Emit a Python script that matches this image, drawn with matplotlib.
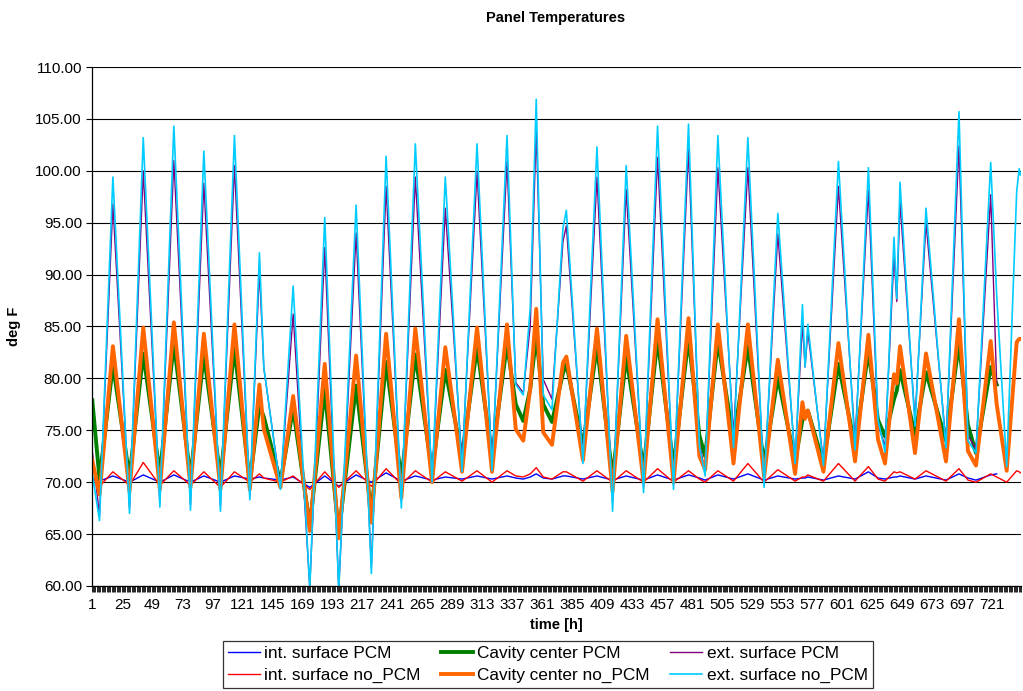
import matplotlib
matplotlib.use('agg')
import matplotlib.pyplot as plt
import numpy as np

plt.rcParams['font.family'] = ['Liberation Sans', 'DejaVu Sans']

# hour of each sampled point (daily lows, highs and a few shoulders)
hours = [1, 6.8, 17.5, 30.8, 41.8, 55.1, 66.3, 79.6, 90.3, 103.6,
         114.8, 127.1, 134.8, 138.3, 151.6, 161.8, 175.1, 187.1, 198.3, 212.2,
         224.4, 236.2, 248.4, 259.6, 273, 283.6, 297, 309, 321, 333,
         340, 346, 351.6, 356.4, 362, 369, 377.8, 380.5, 393.8, 405,
         417.5, 428.4, 442.3, 453.5, 466.3, 478.3, 487, 491.6, 501.8, 514.3,
         525.8, 538.8, 549.8, 563.6, 569.5, 571.6, 573.8, 586.3, 598.3, 611.6,
         622.3, 630, 635.6, 642.8, 645, 647.6, 659.6, 668.4, 684.4, 694.8,
         702, 708.4, 720.2, 725, 733, 741, 743, 744]

nan = float('nan')

int_pcm = [70.3, 70.1, 70.6, 70.0, 70.7, 70.0, 70.7, 70.0, 70.6, 70.0,
           70.6, 70.3, 70.5, 70.4, 70.2, 70.5, 69.5, 70.6, 69.6, 70.7,
           70.0, 70.9, 70.1, 70.6, 70.2, 70.5, 70.3, 70.6, 70.3, 70.6,
           70.4, 70.3, 70.5, 70.8, 70.4, 70.3, 70.6, 70.6, 70.3, 70.6,
           70.2, 70.6, 70.2, 70.7, 70.2, 70.7, 70.4, 70.2, 70.7, 70.3,
           70.8, 70.2, 70.6, 70.3, 70.4, 70.4, 70.5, 70.2, 70.6, 70.3,
           71.0, 70.4, 70.3, 70.5, 70.5, 70.6, 70.3, 70.6, 70.2, 70.8,
           70.4, 70.2, 70.7, 70.8, nan, nan, nan, nan]

cavity_pcm = [77.9, 70.3, 81.3, 70.5, 82.4, 70.8, 83.4, 70.5, 82.3, 70.5,
              82.9, 70.0, 77.4, 76.3, 70.0, 77.1, 65.8, 78.9, 65.1, 79.3,
              67.0, 81.6, 70.3, 82.3, 71.0, 80.8, 72.5, 83.0, 72.5, 83.3,
              77.5, 75.9, 79.0, 84.1, 77.5, 75.8, 80.5, 81.4, 73.5, 83.1,
              70.5, 82.1, 71.3, 83.8, 71.5, 83.9, 74.5, 72.5, 83.6, 74.1,
              83.1, 71.8, 80.1, 72.0, 76.0, 76.3, 76.9, 71.8, 81.4, 73.5,
              82.6, 76.0, 74.4, 78.0, 78.8, 80.8, 74.6, 80.6, 74.0, 83.4,
              75.5, 72.8, 81.1, 79.4, nan, nan, nan, nan]

ext_pcm = [73.0, 66.8, 96.8, 67.5, 100.0, 68.0, 101.0, 67.8, 98.8, 67.7,
           100.5, 68.6, 90.5, 81.0, 69.5, 86.2, 59.9, 92.6, 59.8, 94.0,
           61.8, 98.5, 68.1, 99.4, 70.2, 96.4, 71.8, 99.9, 71.8, 100.9,
           79.6, 78.6, 85.1, 104.0, 79.9, 78.0, 93.2, 94.7, 72.3, 99.4,
           68.1, 98.2, 69.5, 101.3, 69.7, 102.1, 73.8, 71.0, 100.3, 74.5,
           100.3, 70.0, 93.9, 72.2, 85.3, 81.1, 84.5, 72.0, 98.5, 74.0,
           98.1, 75.5, 73.5, 91.8, 87.4, 97.0, 76.0, 95.0, 73.8, 102.4,
           74.5, 73.2, 97.7, 79.4, nan, nan, nan, nan]

int_nopcm = [70.5, 69.6, 71.0, 69.7, 71.9, 69.7, 71.1, 69.7, 71.0, 69.5,
             71.0, 70.0, 70.8, 70.4, 70.0, 70.6, 69.3, 71.0, 69.5, 71.1,
             69.6, 71.3, 69.8, 71.1, 70.0, 71.0, 70.1, 71.1, 70.0, 71.1,
             70.6, 70.5, 70.8, 71.4, 70.5, 70.3, 71.0, 71.0, 70.1, 71.1,
             70.0, 71.1, 70.0, 71.3, 70.0, 71.1, 70.3, 70.0, 71.1, 70.1,
             71.8, 70.0, 71.2, 70.1, 70.5, 70.5, 70.7, 70.1, 71.8, 70.1,
             71.5, 70.3, 70.1, 71.0, 70.9, 71.0, 70.3, 71.1, 70.1, 71.3,
             70.2, 70.0, 70.8, 70.5, 70.0, 71.1, 71.0, 70.9]

cavity_nopcm = [72.1, 68.8, 83.1, 69.1, 84.9, 69.3, 85.4, 69.5, 84.3, 69.3,
                85.2, 69.3, 79.4, 75.1, 69.5, 78.3, 65.3, 81.4, 64.6, 82.2,
                66.1, 84.3, 68.5, 84.8, 70.0, 83.0, 71.0, 84.9, 71.0, 85.2,
                75.1, 74.0, 79.0, 86.7, 74.8, 73.6, 81.5, 82.1, 72.1, 84.8,
                69.1, 84.1, 70.0, 85.7, 70.0, 85.8, 72.5, 71.2, 85.2, 71.8,
                85.2, 70.5, 81.8, 70.8, 77.7, 76.1, 76.9, 71.0, 83.4, 72.0,
                84.2, 74.1, 71.8, 80.4, 79.5, 83.1, 72.8, 82.4, 72.0, 85.7,
                73.0, 71.6, 83.6, 77.5, 71.1, 83.5, 83.8, 83.8]

ext_nopcm = [70.8, 66.3, 99.4, 67.0, 103.2, 67.6, 104.3, 67.3, 101.9, 67.2,
             103.4, 68.3, 92.1, 81.1, 69.3, 88.9, 59.8, 95.5, 59.6, 96.7,
             61.2, 101.4, 67.5, 102.6, 70.0, 99.4, 71.0, 102.6, 71.1, 103.4,
             79.4, 78.4, 86.8, 106.9, 78.4, 77.0, 94.5, 96.2, 71.8, 102.3,
             67.2, 100.5, 69.0, 104.3, 69.3, 104.5, 73.5, 70.6, 103.4, 73.3,
             103.2, 69.5, 95.9, 71.8, 87.1, 81.1, 85.2, 71.6, 100.9, 73.1,
             100.3, 76.0, 72.9, 93.6, 87.7, 98.9, 75.4, 96.4, 73.3, 105.7,
             74.0, 72.8, 100.8, 88.0, 71.5, 98.0, 100.2, 99.6]

x_labels = list(range(1, 722, 24))
y_ticks = np.arange(60, 110.1, 5)

fig = plt.figure(figsize=(10.23, 6.91), dpi=100)
ax = fig.add_axes([0.0896, 0.152, 0.9085, 0.751])

# drawing order: PCM first, no_PCM on top
h_int_pcm, = ax.plot(hours, int_pcm, color='#0000FF', lw=1.0, label='int. surface PCM')
h_cav_pcm, = ax.plot(hours, cavity_pcm, color='#008000', lw=2.8, label='Cavity center PCM')
h_ext_pcm, = ax.plot(hours, ext_pcm, color='#800080', lw=1.0, label='ext. surface PCM')
h_int_no, = ax.plot(hours, int_nopcm, color='#FF0000', lw=1.0, label='int. surface no_PCM')
h_cav_no, = ax.plot(hours, cavity_nopcm, color='#FF6600', lw=2.8, label='Cavity center no_PCM')
h_ext_no, = ax.plot(hours, ext_nopcm, color='#00CCFF', lw=1.2, label='ext. surface no_PCM')

ax.set_xlim(0.5, 744.5)
ax.set_ylim(60, 110)
ax.set_yticks(y_ticks)
ax.set_yticklabels(['%.2f' % v for v in y_ticks])
ax.set_xticks(x_labels)
ax.set_xticklabels([str(v) for v in x_labels])
ax.set_xticks(np.arange(0.5, 745, 1), minor=True)
ax.tick_params(axis='x', which='major', length=0, labelsize=11, pad=9)
ax.tick_params(axis='x', which='minor', length=4, width=0.6, direction='out', color='black')
ax.tick_params(axis='y', length=4, width=0.8, labelsize=11, pad=3)

ax.yaxis.grid(True, color='black', lw=0.8)
ax.set_axisbelow(True)
for s in ['top', 'right']:
    ax.spines[s].set_visible(False)
ax.spines['left'].set_linewidth(0.9)
ax.spines['bottom'].set_linewidth(0.9)

fig.text(0.5435, 0.974, 'Panel Temperatures', ha='center', va='center',
         fontsize=10.5, fontweight='bold')
fig.text(0.5435, 0.0955, 'time [h]', ha='center', va='center',
         fontsize=10.5, fontweight='bold')
fig.text(0.0137, 0.528, 'deg F', ha='center', va='center', rotation=90,
         fontsize=10.5, fontweight='bold')

handles = [h_int_pcm, h_int_no, h_cav_pcm, h_cav_no, h_ext_pcm, h_ext_no]
leg = fig.legend(handles=handles, loc='upper left', bbox_to_anchor=(0.2177, 0.073),
                 ncol=3, fontsize=12.4, frameon=True, fancybox=False,
                 edgecolor='black', borderpad=0.3, handlelength=1.85,
                 handletextpad=0.25, columnspacing=1.2, labelspacing=0.42,
                 borderaxespad=0)
leg.get_frame().set_linewidth(0.9)

fig.savefig('out.png', dpi=100, facecolor='white')
